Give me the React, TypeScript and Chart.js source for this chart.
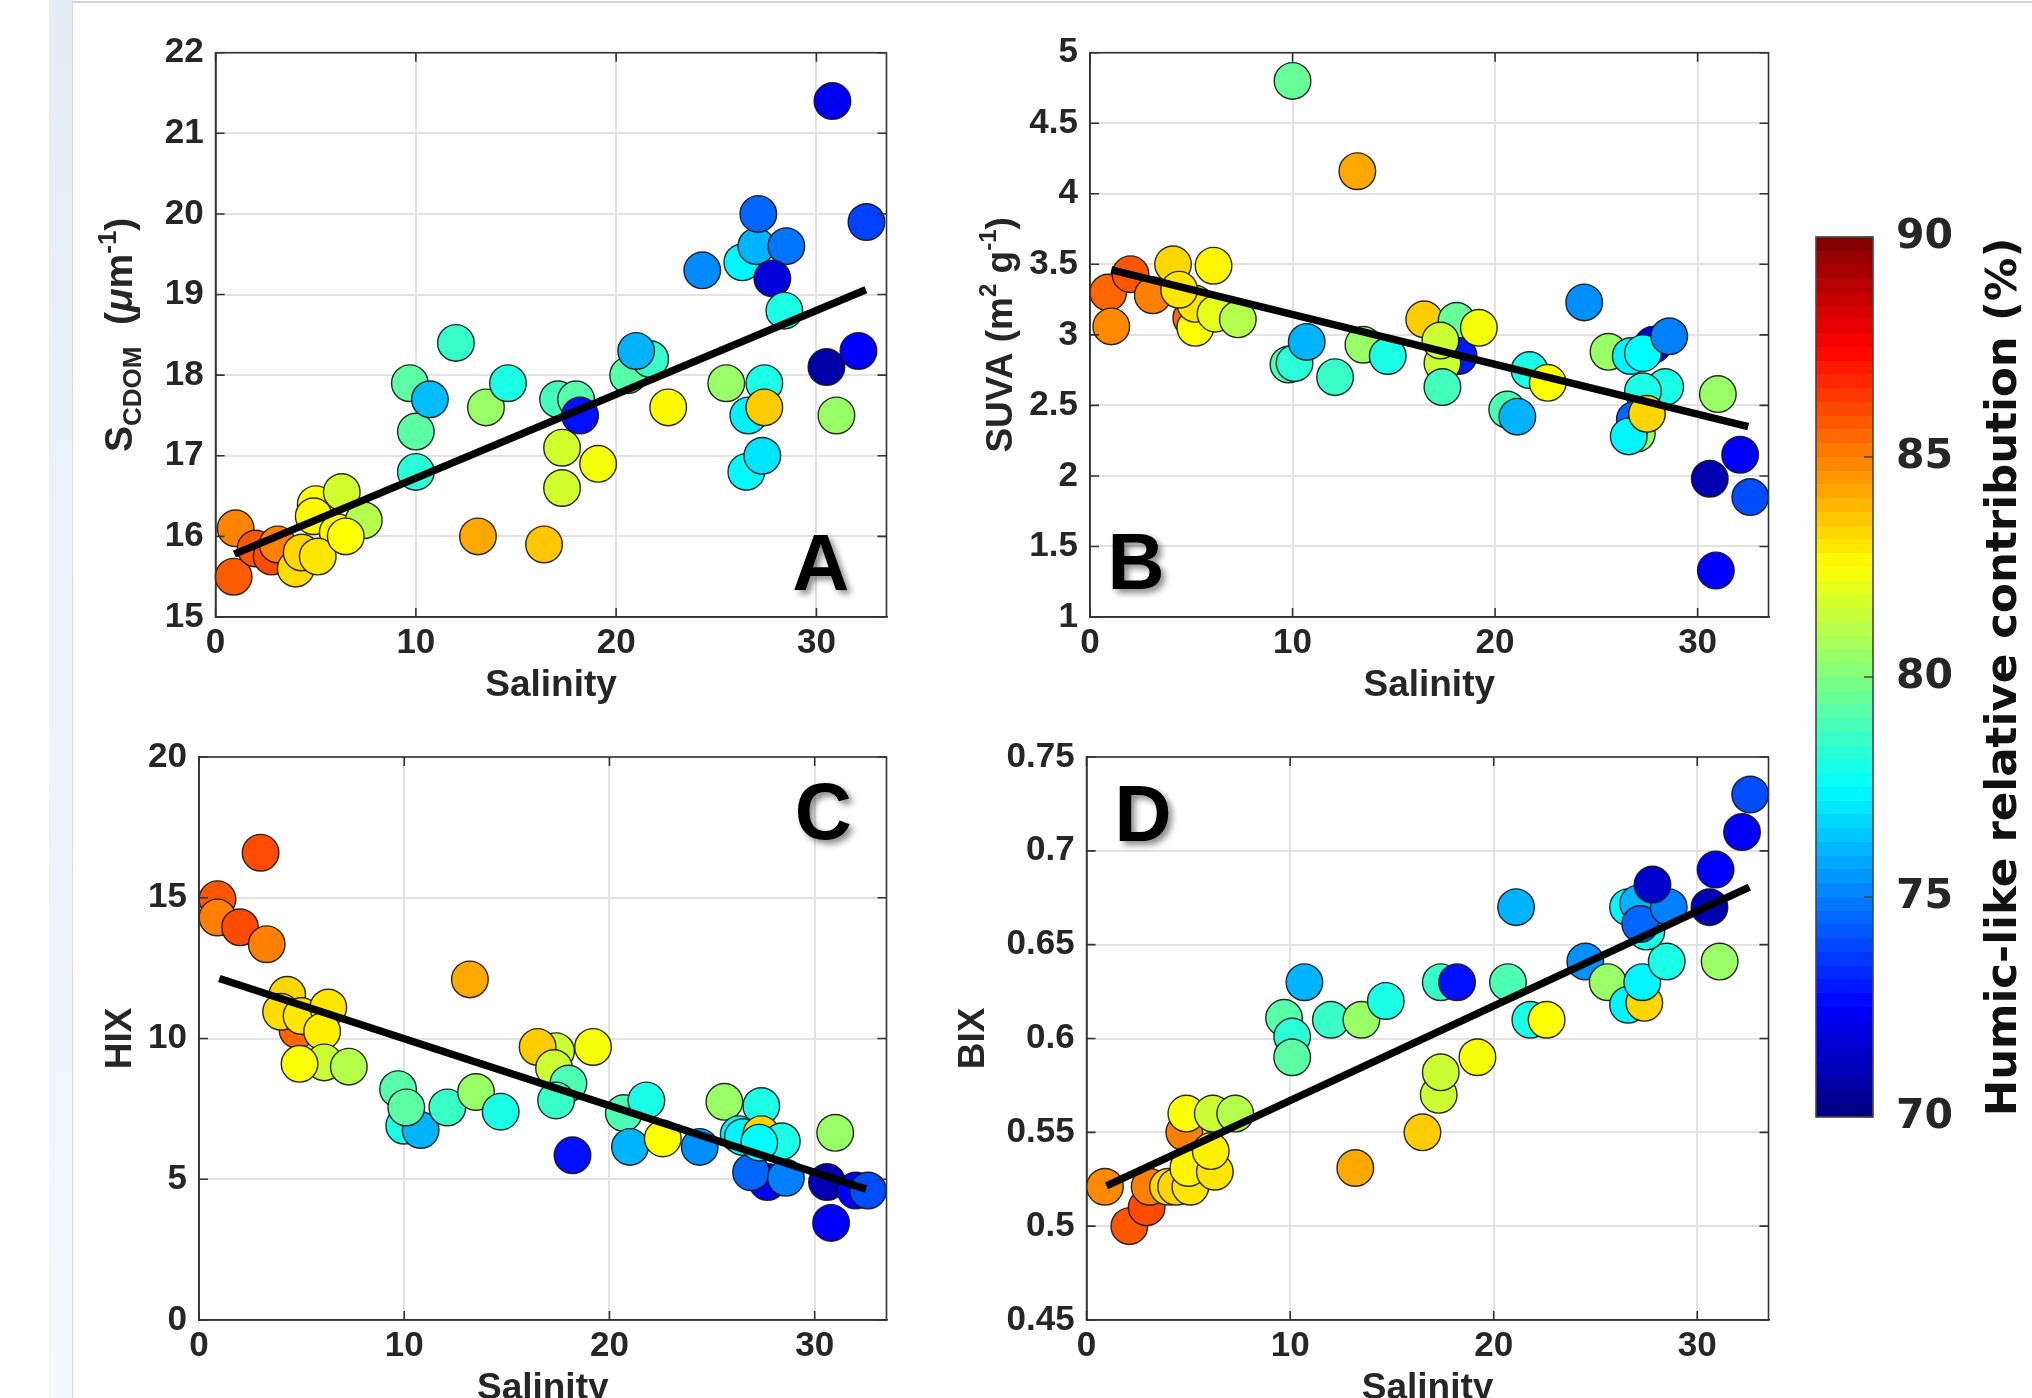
import React, { useEffect, useRef } from "react";
import { Chart, registerables } from "chart.js";
Chart.register(...registerables);

// ---------------- data ----------------
const xTicks = [0, 10, 20, 30];
const xMin = 0;
const xMax = 33.5;

// Panel A : S_CDOM
const salinityA = [1.0, 0.9, 2.0, 2.8, 3.1, 4.0, 4.3, 5.0, 4.9, 6.1, 6.3, 7.4, 5.1, 6.5, 9.7, 10.0, 10.0, 10.7, 12.0, 13.1, 13.5, 14.6, 16.4, 17.1, 18.0, 17.3, 17.3, 18.2, 19.1, 20.6, 21.7, 21.0, 22.6, 24.3, 25.5, 26.3, 26.5, 27.3, 26.6, 27.4, 27.4, 27.0, 27.1, 28.5, 27.8, 28.4, 30.5, 32.1, 31.0, 30.8, 32.5];
const scdomA = [16.1, 15.5, 15.85, 15.75, 15.9, 15.6, 15.8, 16.4, 16.25, 16.05, 16.55, 16.2, 15.75, 16.0, 17.9, 17.3, 16.8, 17.7, 18.4, 16.0, 17.6, 17.9, 15.9, 17.7, 17.7, 17.1, 16.6, 17.5, 16.9, 18.0, 18.2, 18.3, 17.6, 19.3, 17.9, 19.4, 16.8, 17.0, 17.5, 17.9, 17.6, 19.6, 20.0, 19.6, 19.2, 18.8, 18.1, 18.3, 17.5, 21.4, 19.9];
const humicA = [84.9, 85.7, 85.8, 86.0, 85.0, 83.2, 83.3, 82.4, 82.6, 82.7, 81.6, 81.0, 83.0, 82.5, 79.3, 79.3, 78.3, 76.2, 78.6, 84.2, 80.5, 78.0, 83.6, 78.8, 79.2, 81.6, 81.6, 72.8, 82.3, 79.2, 78.6, 76.0, 82.6, 75.2, 80.5, 77.3, 77.4, 77.0, 77.2, 78.0, 83.5, 76.0, 74.5, 74.8, 71.8, 78.0, 70.8, 72.5, 80.5, 72.3, 73.8];
const fitSalA = [0.94, 32.47];
const fitScdomA = [15.78, 19.06];
const yTicksA = [15, 16, 17, 18, 19, 20, 21, 22];

// Panel B : SUVA
const salinityB = [0.9, 1.05, 2.0, 3.1, 4.1, 6.1, 5.0, 5.2, 5.2, 4.4, 6.2, 7.3, 10.0, 9.8, 10.1, 10.7, 12.1, 13.5, 14.7, 13.2, 16.5, 18.1, 18.2, 17.4, 17.3, 19.2, 17.4, 21.7, 22.6, 20.6, 21.1, 24.4, 27.8, 25.6, 26.7, 27.3, 28.6, 28.4, 27.3, 27.0, 26.9, 26.6, 27.5, 31.0, 32.1, 30.6, 32.6, 30.9];
const suvaB = [3.30, 3.06, 3.43, 3.28, 3.50, 3.49, 3.12, 3.05, 3.22, 3.32, 3.15, 3.11, 4.80, 2.79, 2.80, 2.95, 2.70, 2.93, 2.85, 4.16, 3.11, 3.10, 2.85, 2.80, 2.96, 3.05, 2.63, 2.75, 2.66, 2.47, 2.42, 3.23, 2.93, 2.88, 2.85, 2.87, 2.99, 2.63, 2.60, 2.30, 2.40, 2.28, 2.44, 2.58, 2.15, 1.98, 1.85, 1.33];
const humicB = [85.5, 84.8, 85.8, 85.0, 83.3, 82.7, 85.5, 82.5, 83.0, 83.0, 82.0, 81.0, 79.5, 79.0, 78.3, 76.0, 78.6, 80.5, 78.0, 84.2, 83.5, 79.5, 73.0, 81.5, 81.5, 82.3, 78.8, 78.0, 82.5, 79.0, 76.0, 75.3, 72.0, 80.5, 77.3, 77.5, 75.0, 78.0, 78.0, 80.5, 74.5, 77.3, 83.3, 80.5, 72.5, 71.0, 74.0, 72.5];
const fitSalB = [1.05, 32.5];
const fitSuvaB = [3.46, 2.35];
const yTicksB = [1, 1.5, 2, 2.5, 3, 3.5, 4, 4.5, 5];

// Panel C : HIX
const salinityC = [3.0, 0.9, 0.9, 2.0, 3.3, 4.8, 4.3, 4.0, 5.0, 6.3, 6.0, 6.1, 4.9, 7.3, 13.2, 9.7, 10.0, 10.8, 10.1, 12.1, 13.5, 14.7, 17.4, 16.5, 17.3, 19.2, 18.0, 17.4, 18.2, 20.7, 21.8, 21.0, 22.6, 24.4, 25.6, 27.4, 27.7, 26.9, 28.6, 26.3, 26.5, 27.4, 28.4, 27.3, 31.0, 30.6, 32.0, 32.6, 30.8];
const hixC = [16.6, 14.95, 14.3, 13.95, 13.35, 10.3, 11.55, 10.95, 10.8, 11.1, 10.25, 9.15, 9.1, 9.0, 12.1, 8.2, 6.9, 6.75, 7.55, 7.55, 8.1, 7.4, 9.55, 9.7, 8.95, 9.7, 8.4, 7.8, 5.85, 7.35, 7.8, 6.15, 6.45, 6.15, 7.75, 7.6, 4.9, 5.25, 5.05, 6.6, 6.5, 6.6, 6.35, 6.3, 6.65, 4.9, 4.6, 4.6, 3.45];
const humicC = [86.0, 85.8, 85.0, 86.0, 85.0, 85.5, 83.3, 83.2, 83.0, 83.0, 82.8, 81.5, 82.4, 81.0, 84.2, 79.2, 78.0, 76.0, 79.3, 78.6, 80.5, 78.0, 81.5, 83.5, 81.5, 82.3, 79.0, 78.6, 72.8, 79.0, 78.0, 76.0, 82.5, 75.3, 80.5, 78.0, 72.5, 74.5, 75.0, 77.3, 77.3, 83.3, 78.0, 77.5, 80.5, 71.0, 72.5, 74.0, 72.5];
const fitSalC = [0.99, 32.5];
const fitHixC = [12.13, 4.65];
const yTicksC = [0, 5, 10, 15, 20];

// Panel D : BIX
const salinityD = [2.1, 2.95, 0.9, 3.1, 4.8, 4.0, 4.4, 5.1, 5.0, 6.3, 6.1, 4.9, 6.2, 7.3, 13.2, 9.7, 10.1, 10.1, 10.7, 12.0, 13.5, 14.7, 16.5, 17.3, 17.4, 19.2, 17.4, 18.2, 20.7, 21.8, 22.6, 21.1, 24.5, 25.6, 26.6, 27.4, 27.3, 28.5, 26.6, 27.5, 27.1, 27.2, 28.6, 27.8, 31.1, 30.6, 30.9, 32.2, 32.6];
const bixD = [0.500, 0.510, 0.521, 0.521, 0.550, 0.521, 0.521, 0.521, 0.531, 0.529, 0.540, 0.560, 0.560, 0.560, 0.531, 0.611, 0.601, 0.590, 0.630, 0.610, 0.610, 0.620, 0.550, 0.570, 0.582, 0.590, 0.630, 0.630, 0.630, 0.610, 0.610, 0.670, 0.641, 0.630, 0.618, 0.619, 0.630, 0.641, 0.670, 0.657, 0.672, 0.661, 0.670, 0.682, 0.641, 0.670, 0.690, 0.710, 0.730];
const humicD = [85.8, 86.0, 84.8, 85.0, 85.0, 83.2, 83.3, 83.0, 82.7, 83.0, 82.8, 82.4, 81.5, 81.0, 84.2, 79.2, 78.3, 79.3, 76.0, 78.6, 80.5, 78.0, 83.5, 81.5, 81.5, 82.3, 78.6, 72.8, 79.0, 78.0, 82.5, 76.0, 75.3, 80.5, 77.3, 83.3, 77.3, 78.0, 77.3, 78.0, 76.0, 74.5, 75.0, 71.5, 80.5, 71.0, 72.5, 72.5, 74.0];
const fitSalD = [0.98, 32.56];
const fitBixD = [0.5215, 0.6807];
const yTicksD = [0.45, 0.5, 0.55, 0.6, 0.65, 0.7, 0.75];

// Colour bar
const cbTicks = [70, 75, 80, 85, 90];
const cbMin = 70;
const cbMax = 90;
const cbLevels = 64;
const cbTitle = "Humic-like relative contribution (%)";

// ---------------- styling ----------------
const FONT = '"Liberation Sans", Arial, Helvetica, sans-serif';
const WIDE = '"DejaVu Sans", Verdana, sans-serif';
const TEXT = "#262626";

function clamp01(v: number) {
  return Math.max(0, Math.min(1, v));
}
function jet(t: number) {
  const r = clamp01(1.5 - Math.abs(4 * t - 3));
  const g = clamp01(1.5 - Math.abs(4 * t - 2));
  const b = clamp01(1.5 - Math.abs(4 * t - 1));
  return `rgb(${Math.round(r * 255)},${Math.round(g * 255)},${Math.round(b * 255)})`;
}
function humicColor(v: number) {
  return jet(clamp01((v - cbMin) / (cbMax - cbMin)));
}

type Seg = { t: string; sub?: boolean; sup?: boolean; italic?: boolean };
type Rect = { x: number; y: number; w: number; h: number };
type Area = { l: number; t: number; r: number; b: number };
type PanelSpec = {
  rect: Rect;
  area: Area;
  sal: number[];
  val: number[];
  hum: number[];
  fitX: number[];
  fitY: number[];
  yTicks: number[];
  yTitle: Seg[];
  yTitleSize: number;
  yTitleX: number;
  letter: string;
  letterAt: { x: number; y: number };
};

function drawRich(ctx: CanvasRenderingContext2D, segs: Seg[], cx: number, cy: number, size: number) {
  ctx.save();
  ctx.translate(cx, cy);
  ctx.rotate(-Math.PI / 2);
  ctx.textAlign = "left";
  ctx.textBaseline = "alphabetic";
  ctx.fillStyle = TEXT;
  const fontFor = (s: Seg) =>
    `${s.italic ? "italic " : ""}bold ${s.sub || s.sup ? Math.round(size * 0.66) : size}px ${FONT}`;
  const widths = segs.map((s) => {
    ctx.font = fontFor(s);
    return ctx.measureText(s.t).width;
  });
  const total = widths.reduce((a, b) => a + b, 0);
  let x = -total / 2;
  segs.forEach((s, i) => {
    ctx.font = fontFor(s);
    const dy = s.sub ? size * 0.22 : s.sup ? -size * 0.42 : 0;
    ctx.fillText(s.t, x, dy);
    x += widths[i];
  });
  ctx.restore();
}

const panelDeco = {
  id: "panelDeco",
  afterDraw(chart: any, _args: any, opts: any) {
    const { ctx, chartArea: a, scales } = chart;
    ctx.save();
    ctx.strokeStyle = "#333";
    ctx.lineWidth = 1.6;
    ctx.strokeRect(a.left, a.top, a.right - a.left, a.bottom - a.top);
    const L = 9;
    ctx.beginPath();
    scales.y.ticks.forEach((t: any) => {
      const p = scales.y.getPixelForValue(t.value);
      ctx.moveTo(a.left, p);
      ctx.lineTo(a.left + L, p);
      ctx.moveTo(a.right, p);
      ctx.lineTo(a.right - L, p);
    });
    scales.x.ticks.forEach((t: any) => {
      const p = scales.x.getPixelForValue(t.value);
      ctx.moveTo(p, a.bottom);
      ctx.lineTo(p, a.bottom - L);
      ctx.moveTo(p, a.top);
      ctx.lineTo(p, a.top + L);
    });
    ctx.stroke();
    ctx.restore();

    drawRich(ctx, opts.yTitle, opts.yTitleX, (a.top + a.bottom) / 2, opts.yTitleSize);

    ctx.save();
    ctx.font = `bold 79px ${FONT}`;
    ctx.textAlign = "left";
    ctx.textBaseline = "alphabetic";
    ctx.shadowColor = "rgba(0,0,0,0.45)";
    ctx.shadowOffsetX = 4;
    ctx.shadowOffsetY = 4;
    ctx.shadowBlur = 6;
    ctx.fillStyle = "#000";
    ctx.fillText(
      opts.letter,
      scales.x.getPixelForValue(opts.letterAt.x),
      scales.y.getPixelForValue(opts.letterAt.y)
    );
    ctx.restore();
  },
};

function tickLabel(v: number | string) {
  return String(Math.round(Number(v) * 1000) / 1000);
}

function panelConfig(p: PanelSpec): any {
  const yW = p.area.l - p.rect.x;
  const padTop = p.area.t - p.rect.y;
  const padRight = p.rect.x + p.rect.w - p.area.r;
  const xH = p.rect.y + p.rect.h - p.area.b;
  const titleSize = 37;
  const titlePadBottom = xH - (titleSize * 1.2) / 2 - 68.5;
  const tickFont = { family: FONT, size: 35, weight: "bold" as const, lineHeight: 1.2 };
  const yMin = p.yTicks[0];
  const yMax = p.yTicks[p.yTicks.length - 1];
  return {
    type: "scatter",
    data: {
      datasets: [
        {
          label: "fit",
          data: p.fitX.map((x, i) => ({ x, y: p.fitY[i] })),
          showLine: true,
          borderColor: "#000",
          backgroundColor: "#000",
          borderWidth: 7.5,
          pointRadius: 0,
          pointHoverRadius: 0,
          order: 0,
          clip: false,
        },
        {
          label: "samples",
          data: p.sal.map((x, i) => ({ x, y: p.val[i] })),
          backgroundColor: p.hum.map(humicColor),
          borderColor: "rgba(20,20,20,0.9)",
          borderWidth: 1.4,
          pointRadius: 18.3,
          pointHoverRadius: 18.3,
          order: 1,
          clip: false,
        },
      ],
    },
    options: {
      animation: false,
      responsive: false,
      events: [],
      layout: { padding: { left: 0, top: padTop, right: padRight, bottom: 0 } },
      plugins: {
        legend: { display: false },
        tooltip: { enabled: false },
        panelDeco: {
          yTitle: p.yTitle,
          yTitleSize: p.yTitleSize,
          yTitleX: p.yTitleX - p.rect.x,
          letter: p.letter,
          letterAt: p.letterAt,
        },
      },
      scales: {
        x: {
          type: "linear",
          min: xMin,
          max: xMax,
          afterBuildTicks: (s: any) => {
            s.ticks = xTicks.map((v) => ({ value: v }));
          },
          afterFit: (s: any) => {
            s.height = xH;
          },
          grid: { color: "#e2e2e2", lineWidth: 2, drawTicks: false },
          border: { display: true, color: "#333", width: 1.6 },
          ticks: { font: tickFont, color: TEXT, padding: 5, maxRotation: 0, autoSkip: false, callback: tickLabel },
          title: {
            display: true,
            text: "Salinity",
            color: TEXT,
            font: { family: FONT, size: titleSize, weight: "bold", lineHeight: 1.2 },
            padding: { top: 0, bottom: titlePadBottom },
          },
        },
        y: {
          type: "linear",
          min: yMin,
          max: yMax,
          afterBuildTicks: (s: any) => {
            s.ticks = p.yTicks.map((v) => ({ value: v }));
          },
          afterFit: (s: any) => {
            s.width = yW;
          },
          grid: { color: "#e2e2e2", lineWidth: 2, drawTicks: false },
          border: { display: true, color: "#333", width: 1.6 },
          ticks: { font: tickFont, color: TEXT, padding: 12, autoSkip: false, callback: tickLabel },
        },
      },
    },
    plugins: [panelDeco],
  };
}

const panels: PanelSpec[] = [
  {
    rect: { x: 0, y: 0, w: 950, h: 720 },
    area: { l: 215.6, t: 52.7, r: 886.5, b: 617 },
    sal: salinityA,
    val: scdomA,
    hum: humicA,
    fitX: fitSalA,
    fitY: fitScdomA,
    yTicks: yTicksA,
    yTitle: [
      { t: "S" },
      { t: "CDOM", sub: true },
      { t: "  (" },
      { t: "\u03bc", italic: true },
      { t: "m" },
      { t: "-1", sup: true },
      { t: ")" },
    ],
    yTitleSize: 39,
    yTitleX: 132,
    letter: "A",
    letterAt: { x: 28.8, y: 15.33 },
  },
  {
    rect: { x: 950, y: 0, w: 850, h: 720 },
    area: { l: 1090, t: 52.7, r: 1768.5, b: 617 },
    sal: salinityB,
    val: suvaB,
    hum: humicB,
    fitX: fitSalB,
    fitY: fitSuvaB,
    yTicks: yTicksB,
    yTitle: [
      { t: "SUVA (m" },
      { t: "2", sup: true },
      { t: " g" },
      { t: "-1", sup: true },
      { t: ")" },
    ],
    yTitleSize: 37,
    yTitleX: 1012,
    letter: "B",
    letterAt: { x: 0.86, y: 1.2 },
  },
  {
    rect: { x: 0, y: 700, w: 950, h: 720 },
    area: { l: 199, t: 757, r: 886.5, b: 1320 },
    sal: salinityC,
    val: hixC,
    hum: humicC,
    fitX: fitSalC,
    fitY: fitHixC,
    yTicks: yTicksC,
    yTitle: [{ t: "HIX" }],
    yTitleSize: 37,
    yTitleX: 131,
    letter: "C",
    letterAt: { x: 29.03, y: 17.09 },
  },
  {
    rect: { x: 950, y: 700, w: 850, h: 720 },
    area: { l: 1086.6, t: 757, r: 1768.5, b: 1320 },
    sal: salinityD,
    val: bixD,
    hum: humicD,
    fitX: fitSalD,
    fitY: fitBixD,
    yTicks: yTicksD,
    yTitle: [{ t: "BIX" }],
    yTitleSize: 37,
    yTitleX: 984,
    letter: "D",
    letterAt: { x: 1.37, y: 0.7055 },
  },
];

function Panel({ spec }: { spec: PanelSpec }) {
  const ref = useRef<HTMLCanvasElement>(null);
  useEffect(() => {
    const chart = new Chart(ref.current as HTMLCanvasElement, panelConfig(spec));
    return () => chart.destroy();
  }, [spec]);
  const { x, y, w, h } = spec.rect;
  return (
    <canvas
      ref={ref}
      width={w}
      height={h}
      style={{ position: "absolute", left: x, top: y, width: w, height: h }}
    />
  );
}

// ---------------- colour bar ----------------
const cbRect = { x: 1780, y: 150, w: 252, h: 1100 };
const cbArea = { l: 1816, t: 237, r: 1873, b: 1117 };

const cbDeco = {
  id: "cbDeco",
  afterDraw(chart: any) {
    const { ctx, chartArea: a, scales } = chart;
    ctx.save();
    ctx.strokeStyle = "#444";
    ctx.lineWidth = 1.6;
    ctx.strokeRect(a.left, a.top, a.right - a.left, a.bottom - a.top);
    ctx.beginPath();
    scales.y.ticks.forEach((t: any) => {
      const p = scales.y.getPixelForValue(t.value);
      ctx.moveTo(a.right, p);
      ctx.lineTo(a.right - 9, p);
    });
    ctx.stroke();
    ctx.restore();

    ctx.save();
    ctx.translate(2016 - cbRect.x, (a.top + a.bottom) / 2);
    ctx.rotate(-Math.PI / 2);
    ctx.font = `bold 43.5px ${WIDE}`;
    ctx.fillStyle = "#111";
    ctx.textAlign = "center";
    ctx.textBaseline = "alphabetic";
    ctx.fillText(cbTitle, 0, 0);
    ctx.restore();
  },
};

function ColorBar() {
  const ref = useRef<HTMLCanvasElement>(null);
  useEffect(() => {
    const chart = new Chart(ref.current as HTMLCanvasElement, {
      type: "bar",
      data: {
        labels: [""],
        datasets: [
          {
            data: [[cbMin, cbMax]] as any,
            borderWidth: 0,
            categoryPercentage: 1,
            barPercentage: 1,
            backgroundColor: (c: any) => {
              const area = c.chart.chartArea;
              if (!area) return "transparent";
              const g = c.chart.ctx.createLinearGradient(0, area.bottom, 0, area.top);
              for (let i = 0; i < cbLevels; i++) {
                const col = jet((i + 0.5) / cbLevels);
                g.addColorStop(i / cbLevels, col);
                g.addColorStop((i + 1) / cbLevels, col);
              }
              return g;
            },
          },
        ],
      },
      options: {
        animation: false,
        responsive: false,
        events: [],
        layout: {
          padding: {
            left: cbArea.l - cbRect.x,
            top: cbArea.t - cbRect.y,
            right: 0,
            bottom: cbRect.y + cbRect.h - cbArea.b,
          },
        },
        plugins: { legend: { display: false }, tooltip: { enabled: false } },
        scales: {
          x: { display: false },
          y: {
            position: "right",
            min: cbMin,
            max: cbMax,
            afterBuildTicks: (s: any) => {
              s.ticks = cbTicks.map((v) => ({ value: v }));
            },
            afterFit: (s: any) => {
              s.width = cbRect.x + cbRect.w - cbArea.r;
            },
            grid: { display: false },
            border: { display: false },
            ticks: {
              font: { family: WIDE, size: 41, weight: "bold" },
              color: TEXT,
              padding: 15,
              autoSkip: false,
            },
          },
        },
      } as any,
      plugins: [cbDeco],
    });
    return () => chart.destroy();
  }, []);
  return (
    <canvas
      ref={ref}
      width={cbRect.w}
      height={cbRect.h}
      style={{ position: "absolute", left: cbRect.x, top: cbRect.y, width: cbRect.w, height: cbRect.h }}
    />
  );
}

export default function App() {
  return (
    <div
      style={{
        position: "fixed",
        left: 0,
        top: 0,
        width: 2032,
        height: 1398,
        overflow: "hidden",
        background: "#ffffff",
      }}
    >
      <div
        style={{
          position: "absolute",
          left: 49,
          top: 0,
          width: 23,
          height: 1398,
          background: "linear-gradient(#e6edf6, #f5f8fc)",
        }}
      />
      <div style={{ position: "absolute", left: 72, top: 0, width: 1, height: 1398, background: "#d3dbe6" }} />
      <div style={{ position: "absolute", left: 72, top: 1, width: 1960, height: 2, background: "#cdd5e0" }} />
      {panels.map((p, i) => (
        <Panel key={i} spec={p} />
      ))}
      <ColorBar />
    </div>
  );
}
